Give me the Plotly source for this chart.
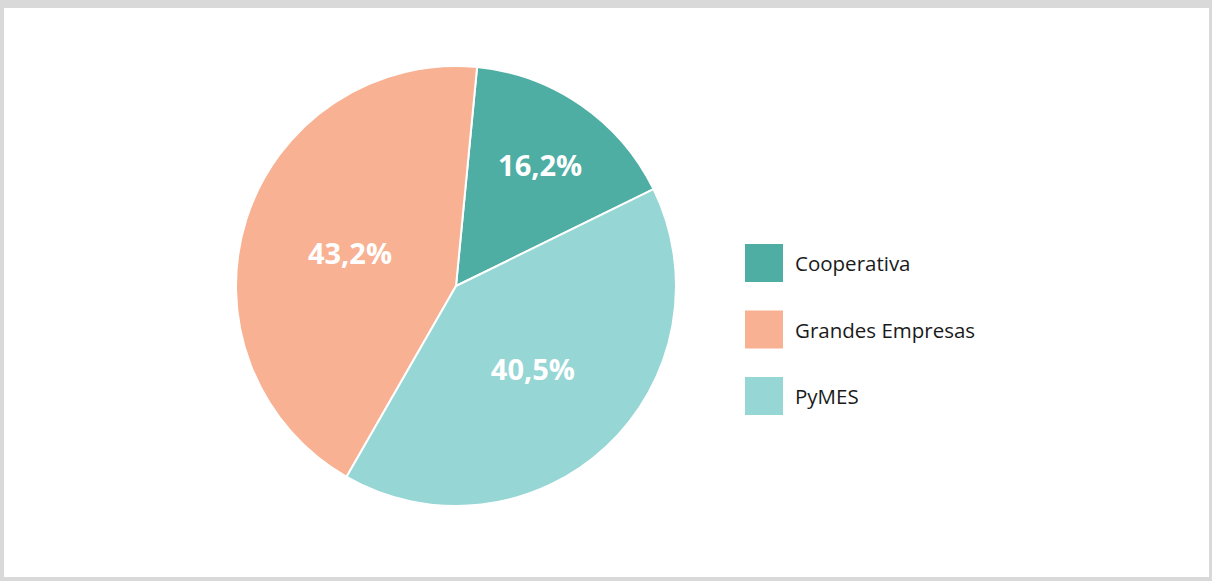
import plotly.graph_objects as go

categories = ["Cooperativa", "Grandes Empresas", "PyMES"]
values = [16.2, 43.2, 40.5]
value_labels = ["16,2%", "43,2%", "40,5%"]
colors = ["#4EAEA3", "#F8B192", "#96D6D5"]

W, H = 1212, 581
cx, cy, r = 456, 286, 220

fig = go.Figure()
fig.add_trace(go.Pie(
    labels=categories,
    values=values,
    text=value_labels,
    textinfo="text",
    hoverinfo="label+percent",
    sort=False,
    direction="counterclockwise",
    rotation=5.5,
    marker=dict(colors=colors, line=dict(color="white", width=2)),
    textposition="inside",
    insidetextorientation="horizontal",
    textfont=dict(family="Open Sans", size=29, color="white", weight="bold"),
    showlegend=False,
    domain=dict(x=[(cx - r) / W, (cx + r) / W], y=[(H - cy - r) / H, (H - cy + r) / H]),
))

shapes = [dict(type="rect", xref="paper", yref="paper", x0=4 / W, x1=(W - 3) / W,
               y0=4 / H, y1=(H - 8) / H, fillcolor="white", line=dict(width=0), layer="below")]
annotations = []
lx0, sw, ly0, step = 745, 38, 263, 66.5
for i, (cat, col) in enumerate(zip(categories, colors)):
    yc = ly0 + i * step
    shapes.append(dict(type="rect", xref="paper", yref="paper",
                       x0=lx0 / W, x1=(lx0 + sw) / W,
                       y0=(H - yc - sw / 2) / H, y1=(H - yc + sw / 2) / H,
                       fillcolor=col, line=dict(width=0)))
    annotations.append(dict(text=cat, xref="paper", yref="paper", x=(lx0 + sw + 10) / W,
                            y=(H - yc) / H, xanchor="left", yanchor="middle", showarrow=False,
                            font=dict(family="Open Sans", size=20.5, color="#1a1a1a")))

fig.update_layout(
    width=W, height=H,
    margin=dict(l=0, r=0, t=0, b=0),
    paper_bgcolor="#D9D9D9",
    plot_bgcolor="white",
    shapes=shapes,
    annotations=annotations,
)
fig.write_html("out.html", config={"displayModeBar": False},
               post_script="document.body.style.margin='0px';")
